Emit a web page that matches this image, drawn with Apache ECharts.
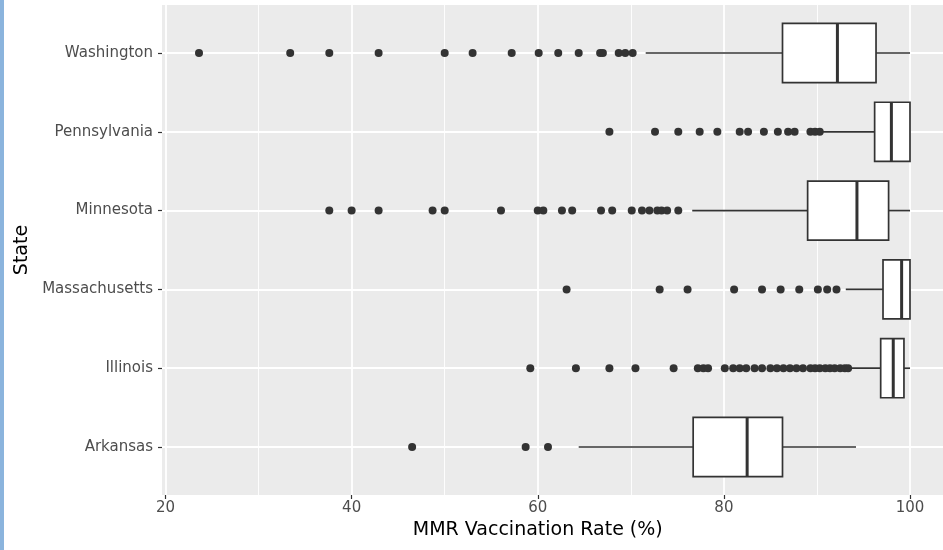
<!DOCTYPE html>
<html>
<head>
<meta charset="utf-8">
<script src="https://cdn.jsdelivr.net/npm/echarts@6/dist/echarts.min.js"></script>
<style>
    html, body { margin: 0; padding: 0; background: #fff; }
    #strip { position: absolute; left: 0; top: 0; width: 4px; height: 550px; background: #8bb4dd; }
    #chart { width: 943px; height: 550px; }
</style>
</head>
<body>
<div id="chart"></div>
<div id="strip"></div>
<script>
// 州（从下到上）
var states = ['Arkansas', 'Illinois', 'Massachusetts', 'Minnesota', 'Pennsylvania', 'Washington'];

// 箱线图五数：须下端、Q1、中位数、Q3、须上端
var boxMin    = [64.4, 93.4, 93.1, 76.6, 90.6, 71.6];
var boxQ1     = [76.7, 96.85, 97.1, 89.0, 96.2, 86.3];
var boxMedian = [82.5, 98.2, 99.1, 94.3, 98.0, 92.2];
var boxQ3     = [86.3, 99.35, 100, 97.7, 100, 96.35];
var boxMax    = [94.2, 100, 100, 100, 100, 100];

// 离群点
var outArkansas = [46.5, 58.7, 61.1];
var outIllinois = [59.2, 64.1, 67.7, 70.5, 74.6, 77.2, 77.8, 78.3,
    80.1, 81.0, 81.7, 82.4, 83.3, 84.1, 85.0, 85.7, 86.4, 87.1, 87.8,
    88.5, 89.3, 89.8, 90.3, 90.9, 91.4, 91.9, 92.5, 93.0, 93.35];
var outMassachusetts = [63.1, 73.1, 76.1, 81.1, 84.1, 86.1, 88.1, 90.1, 91.1, 92.1];
var outMinnesota = [37.6, 40.0, 42.9, 48.7, 50.0, 56.05, 60.0, 60.6, 62.6, 63.7,
    66.8, 68.0, 70.1, 71.2, 72.0, 72.85, 73.3, 73.9, 75.1];
var outPennsylvania = [67.7, 72.6, 75.1, 77.4, 79.3, 81.7, 82.6, 84.3, 85.8, 86.9,
    87.6, 89.3, 89.8, 90.3];
var outWashington = [23.6, 33.4, 37.6, 42.9, 50.0, 53.0, 57.2, 60.1, 62.2, 64.4,
    66.7, 67.0, 68.7, 69.4, 70.2];

// x轴刻度
var xTicks = [20, 40, 60, 80, 100];

var outliers = [outArkansas, outIllinois, outMassachusetts, outMinnesota, outPennsylvania, outWashington];

var boxData = [];
var outData = [];
for (var i = 0; i < states.length; i++) {
    boxData.push([i, boxMin[i], boxQ1[i], boxMedian[i], boxQ3[i], boxMax[i]]);
    for (var j = 0; j < outliers[i].length; j++) {
        outData.push([outliers[i][j], states[i]]);
    }
}

var ink = '#333333';

function renderBox(params, api) {
    var cat = api.value(0);
    var pMin = api.coord([api.value(1), cat]);
    var pQ1 = api.coord([api.value(2), cat]);
    var pMed = api.coord([api.value(3), cat]);
    var pQ3 = api.coord([api.value(4), cat]);
    var pMax = api.coord([api.value(5), cat]);
    var h = api.size([0, 1])[1] * 0.75;
    var y = pMed[1];
    var lineStyle = {stroke: ink, lineWidth: 1.7};
    return {
        type: 'group',
        children: [
            {type: 'line', shape: {x1: pMin[0], y1: y, x2: pQ1[0], y2: y}, style: lineStyle},
            {type: 'line', shape: {x1: pQ3[0], y1: y, x2: pMax[0], y2: y}, style: lineStyle},
            {type: 'rect', shape: {x: pQ1[0], y: y - h / 2, width: pQ3[0] - pQ1[0], height: h},
                style: {fill: '#ffffff', stroke: ink, lineWidth: 1.7}},
            {type: 'line', shape: {x1: pMed[0], y1: y - h / 2, x2: pMed[0], y2: y + h / 2},
                style: {stroke: ink, lineWidth: 3}}
        ]
    };
}

// 面板从x=162到画布右边缘(943)
var pxPerUnit = 744.5 / 80;
var panelMin = 20 - 3.5 / pxPerUnit;
var panelMax = panelMin + 781 / pxPerUnit;

var option = {
    animation: false,
    textStyle: {fontFamily: 'DejaVu Sans'},
    grid: [
        // 面板背景
        {left: 162, top: 5, width: 781, height: 490, show: true, backgroundColor: '#ebebeb', borderWidth: 0},
        // x轴与竖向网格线
        {left: 165.5, top: 5, width: 744.5, height: 490, show: false},
        // 数据区
        {left: 162, top: 53, width: 781, height: 394, show: false}
    ],
    xAxis: [
        {gridIndex: 0, type: 'value', show: false, min: 0, max: 1},
        {
            gridIndex: 1, type: 'value', min: 20, max: 100, interval: 20,
            name: 'MMR Vaccination Rate (%)', nameLocation: 'middle', nameGap: 26,
            nameTextStyle: {color: '#000', fontSize: 19},
            axisLine: {show: false},
            axisTick: {show: true, length: 4, lineStyle: {color: ink, width: 1.2}},
            axisLabel: {color: '#4d4d4d', fontSize: 15, margin: 6,
                customValues: xTicks},
            splitLine: {show: true, lineStyle: {color: '#ffffff', width: 1.8}},
            minorTick: {show: false, splitNumber: 2},
            minorSplitLine: {show: true, lineStyle: {color: '#ffffff', width: 0.9}}
        },
        {gridIndex: 2, type: 'value', show: false, min: panelMin, max: panelMax}
    ],
    yAxis: [
        {gridIndex: 0, type: 'value', show: false},
        {gridIndex: 1, type: 'value', show: false},
        {
            gridIndex: 2, type: 'category', data: states, boundaryGap: false,
            name: 'State', nameLocation: 'middle', nameGap: 129, nameRotate: 90,
            nameTextStyle: {color: '#000', fontSize: 19},
            axisLine: {show: false},
            axisTick: {show: true, length: 4, lineStyle: {color: ink, width: 1.2}},
            axisLabel: {color: '#4d4d4d', fontSize: 15, margin: 9},
            splitLine: {show: true, lineStyle: {color: '#ffffff', width: 1.8}}
        }
    ],
    series: [
        {
            type: 'custom', xAxisIndex: 2, yAxisIndex: 2,
            renderItem: renderBox,
            encode: {x: [1, 2, 3, 4, 5], y: 0},
            data: boxData
        },
        {
            type: 'scatter', xAxisIndex: 2, yAxisIndex: 2,
            symbolSize: 8,
            itemStyle: {color: ink, opacity: 1},
            data: outData
        }
    ]
};

var chart = echarts.init(document.getElementById('chart'));
chart.setOption(option);
</script>
</body>
</html>
